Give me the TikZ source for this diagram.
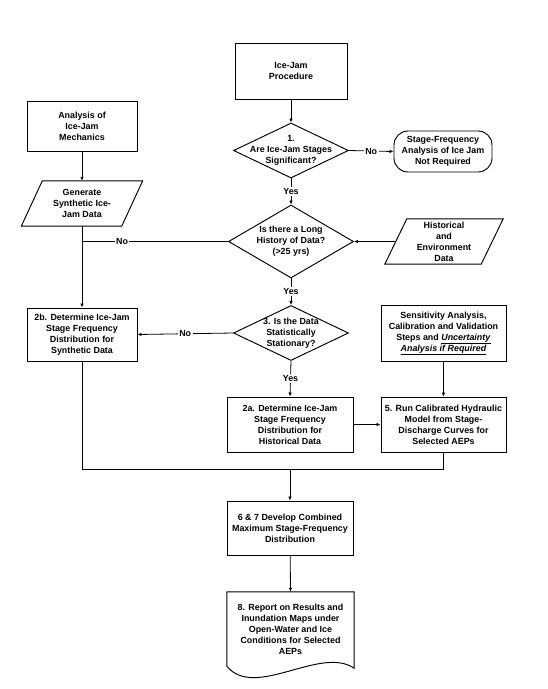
\documentclass[tikz,border=0pt]{standalone}
\usepackage{fontspec}
\setmainfont{Liberation Sans}
\usetikzlibrary{arrows.meta,shapes.geometric,calc}
\newcommand{\ulit}[1]{\setbox0\hbox{\textit{#1}}\rlap{\rule[-3.3pt]{\wd0}{0.6pt}}\box0}
\begin{document}
\begin{tikzpicture}[x=1pt,y=-1pt,
  every node/.style={font=\fontsize{8.9}{11}\selectfont\bfseries, align=center, inner sep=0pt},
  box/.style={draw, line width=0.95pt, rectangle},
  dia/.style={draw, line width=0.95pt, diamond},
  term/.style={draw, line width=0.95pt, rectangle, rounded corners=14pt},
  ghost/.style={rectangle, draw=none},
  shp/.style={line width=0.95pt, line join=miter},
  con/.style={line width=0.8pt, -{Latex[length=4pt,width=3.5pt]}},
  ln/.style={line width=0.8pt},
  lbl/.style={fill=white, inner sep=1.5pt}]
\useasboundingbox (0,0) rectangle (547,689);

% nodes
\node[box, minimum width=112pt, minimum height=56pt] (proc) at (291,71) {Ice-Jam\\Procedure};
\node[dia, minimum width=115pt, minimum height=55pt] (d1) at (291,150.5) {};
\node (d1t) at (d1) {1.\\Are Ice-Jam Stages\\Significant?};
\node[term, minimum width=98pt, minimum height=41pt] (term) at (443,151.5) {Stage-Frequency\\Analysis of Ice Jam\\Not Required};
\node[dia, minimum width=125pt, minimum height=73pt] (d2) at (291,241.5) {};
\node (d2t) at (d2) {Is there a Long\\History of Data?\\(>25 yrs)};
\node[ghost, minimum width=96pt, minimum height=45pt] (hist) at (444,241.5) {Historical\\and\\Environment\\Data};
\node[dia, minimum width=115pt, minimum height=55pt] (d3) at (291,333) {};
\node (d3t) at (d3) {3. Is the Data\\Statistically\\Stationary?};

\node[box, minimum width=110pt, minimum height=50pt] (ana) at (82,126) {Analysis of\\Ice-Jam\\Mechanics};
\node[ghost, minimum width=100pt, minimum height=45pt] (gen) at (82,203.5) {Generate\\Synthetic Ice-\\Jam Data};
\node[box, minimum width=110pt, minimum height=53pt] (b2b) at (82,334.5) {2b. Determine Ice-Jam\\Stage Frequency\\Distribution for\\Synthetic Data};

\node[box, minimum width=125pt, minimum height=56pt] (sens) at (443.5,333) {Sensitivity Analysis,\\Calibration and Validation\\Steps and \ulit{Uncertainty}\\\ulit{Analysis if Required}};
\node[box, minimum width=126pt, minimum height=55pt] (b2a) at (290,424.5) {2a. Determine Ice-Jam\\Stage Frequency\\Distribution for\\Historical Data};
\node[box, minimum width=125pt, minimum height=55pt] (b5) at (443.5,424.5) {5. Run Calibrated Hydraulic\\Model from Stage-\\Discharge Curves for\\Selected AEPs};
\node[box, minimum width=126pt, minimum height=54pt] (b67) at (290,528) {6 \& 7 Develop Combined\\Maximum Stage-Frequency\\Distribution};
\node[ghost, minimum width=127pt, minimum height=74pt] (rep) at (290.5,629) {8. Report on Results and\\Inundation Maps under\\Open-Water and Ice\\Conditions for Selected\\AEPs};

% parallelograms and document shape
\draw[shp] ($(hist.south west)+(-11,0)$) -- ($(hist.north west)+(11,0)$) -- ($(hist.north east)+(11,0)$) -- ($(hist.south east)+(-11,0)$) -- cycle;
\draw[shp] ($(gen.south west)+(-10.5,0)$) -- ($(gen.north west)+(10.5,0)$) -- ($(gen.north east)+(10.5,0)$) -- ($(gen.south east)+(-10.5,0)$) -- cycle;
\draw[shp] (rep.south west) -- (rep.north west) -- (rep.north east) -- ($(rep.south east)+(0,2)$)
  .. controls ($(rep.south east)+(-34,-21)$) and ($(rep.south west)+(28,34)$) .. (rep.south west) -- cycle;

% coordinates
\coordinate (jn) at (gen.south |- d2.west);
\coordinate (m) at (b67.north |- 0,469);

% connectors
\draw[con] (proc) -- (d1);
\draw[con] (d1.east) -- node[lbl] (no1) {No} (term.west);
\draw[con] (d1.south) -- node[lbl] (yes1) {Yes} (d2.north);
\draw[con] (hist.west) -- (d2.east);
\draw[ln] (d2.west) -- node[lbl, pos=0.726] (no2) {No} (jn);
\draw[con] (ana) -- (gen);
\draw[con] (gen.south) -- (b2b.north);
\draw[con] (d2.south) -- node[lbl] (yes2) {Yes} (d3.north);
\draw[con] (d3.west) -- node[lbl] (no3) {No} (b2b.east);
\draw[con] (d3.south) -- node[lbl] (yes3) {Yes} (b2a.north);
\draw[con] (sens) -- (b5);
\draw[con] (b2a) -- (b5);
\draw[ln] (b2b.south) -- (b2b.south |- m) -- (b5.south |- m) -- (b5.south);
\draw[con] (m) -- (b67.north);
\draw[con] (b67) -- (rep.north);
\end{tikzpicture}
\end{document}
